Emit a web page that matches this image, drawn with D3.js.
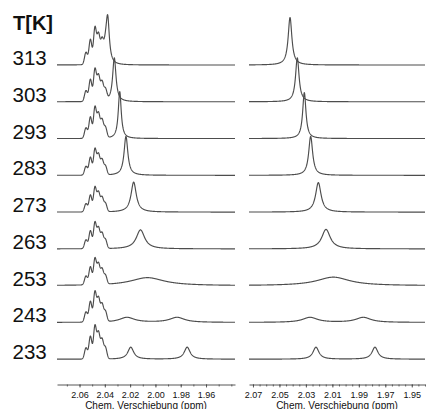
<!DOCTYPE html>
<html>
<head>
<meta charset="utf-8">
<script src="https://cdnjs.cloudflare.com/ajax/libs/d3/7.8.5/d3.min.js"></script>
<style>
  body { margin: 0; background: #fff; }
  svg { display: block; font-family: "Liberation Sans", Arial, Helvetica, sans-serif; }
</style>
</head>
<body>
<div id="chart"></div>
<script>
const width = 427;
const height = 409;

const temps = [313, 303, 293, 283, 273, 263, 253, 243, 233];

// left panel: fixed multiplet (line positions in ppm, relative intensities)
const multipletPpm = [2.0549, 2.0514, 2.0478, 2.0450, 2.0422, 2.0395];
const multipletRel = [0.34, 0.69, 1.0, 0.78, 0.58, 0.34];
// multiplet amplitude per temperature (% of full scale)
const multipletAmp = [72, 64, 62, 52, 49, 52, 52, 60, 66];

// exchanging signal, left panel (per temperature: positions, amplitudes %, half widths ppm)
const leftPeakPpm = [[2.0377], [2.0325], [2.0282], [2.0233], [2.0172], [2.0118], [2.0063], [2.0225, 1.9829], [2.0195, 1.9749]];
const leftPeakAmp = [[93], [88], [94], [78], [60], [38], [16], [10, 10], [24, 24]];
const leftPeakHw  = [[0.0016], [0.0016], [0.0014], [0.0018], [0.0025], [0.0040], [0.0160], [0.0071, 0.0071], [0.0028, 0.0028]];

// right panel, same signal only
const rightPeakPpm = [[2.0420], [2.0365], [2.0312], [2.0264], [2.0206], [2.0148], [2.0093], [2.0269, 1.9866], [2.0224, 1.9778]];
const rightPeakAmp = [[95], [88], [92], [78], [59], [39], [17], [10, 10], [24, 24]];
const rightPeakHw  = [[0.0017], [0.0016], [0.0015], [0.0018], [0.0025], [0.0039], [0.0150], [0.0068, 0.0068], [0.0027, 0.0027]];

const leftTicks = [2.06, 2.04, 2.02, 2.00, 1.98, 1.96];
const rightTicks = [2.07, 2.05, 2.03, 2.01, 1.99, 1.97, 1.95];

const axisTitle = "Chem. Verschiebung (ppm)";
const tempTitle = "T[K]";

const svg = d3.select("#chart").append("svg")
    .attr("width", width)
    .attr("height", height);

const baseY = d3.scalePoint().domain(temps).range([65, 359.2]);
const amp = d3.scaleLinear().domain([0, 100]).range([0, 50]);

const xLeft = d3.scaleLinear().domain([2.0778, 1.9371]).range([57, 235]);
const xRight = d3.scaleLinear().domain([2.073, 1.940]).range([249, 425]);

const multSigma = 0.00114;

function lorentz(p, c, a, hw) {
    const t = (p - c) / hw;
    return a / (1 + t * t);
}

function spectrum(p, i, ppms, amps, hws, withMultiplet) {
    let s = 0;
    ppms[i].forEach((c, k) => { s += lorentz(p, c, amps[i][k], hws[i][k]); });
    if (withMultiplet) {
        multipletPpm.forEach((c, k) => {
            const t = (p - c) / multSigma;
            s += multipletAmp[i] * multipletRel[k] * Math.exp(-0.5 * t * t);
        });
    }
    return s;
}

function drawPanel(x, ppms, amps, hws, withMultiplet, ticks, minorStep) {
    const [d0, d1] = x.domain();
    const grid = d3.range(d0, d1, -0.00015).concat([d1]);

    const line = d3.line()
        .x(d => x(d[0]))
        .y(d => d[1]);

    temps.forEach((t, i) => {
        const pts = grid.map(p => [p, baseY(t) - amp(spectrum(p, i, ppms, amps, hws, withMultiplet))]);
        svg.append("path")
            .datum(pts)
            .attr("fill", "none")
            .attr("stroke", "#4d4d4d")
            .attr("stroke-width", 1.15)
            .attr("stroke-linejoin", "round")
            .attr("d", line);
    });

    const axisY = 384.5;
    const minor = d3.range(2.07, 1.935, -minorStep).map(v => +v.toFixed(3))
        .filter(v => v <= d0 && v >= d1);

    svg.append("g")
        .attr("transform", `translate(0,${axisY})`)
        .call(d3.axisBottom(x).tickValues(minor).tickFormat("").tickSize(2).tickSizeOuter(0))
        .call(g => g.select(".domain").remove())
        .call(g => g.selectAll("line").attr("stroke", "#444").attr("stroke-width", 0.8));

    const ax = svg.append("g")
        .attr("transform", `translate(0,${axisY})`)
        .call(d3.axisBottom(x).tickValues(ticks).tickFormat(d3.format(".2f")).tickSize(3).tickPadding(4).tickSizeOuter(0));
    ax.select(".domain").attr("stroke", "#444").attr("stroke-width", 0.9);
    ax.selectAll(".tick line").attr("stroke", "#444").attr("stroke-width", 0.8);
    ax.selectAll("text")
        .attr("font-family", "'Liberation Sans', Arial, sans-serif")
        .attr("font-size", 9)
        .attr("fill", "#111");

    svg.append("text")
        .attr("x", (x.range()[0] + x.range()[1]) / 2)
        .attr("y", 408.5)
        .attr("text-anchor", "middle")
        .attr("font-size", 10)
        .attr("fill", "#111")
        .text(axisTitle);
}

drawPanel(xLeft, leftPeakPpm, leftPeakAmp, leftPeakHw, true, leftTicks, 0.01);
drawPanel(xRight, rightPeakPpm, rightPeakAmp, rightPeakHw, false, rightTicks, 0.005);

svg.append("text")
    .attr("x", 13)
    .attr("y", 30)
    .attr("font-size", 20)
    .attr("font-weight", "bold")
    .attr("fill", "#111")
    .text(tempTitle);

svg.selectAll(".tlabel")
    .data(temps)
    .enter()
    .append("text")
    .attr("class", "tlabel")
    .attr("x", 12.5)
    .attr("y", d => baseY(d))
    .attr("font-size", 20.5)
    .attr("fill", "#111")
    .text(d => d);
</script>
</body>
</html>
